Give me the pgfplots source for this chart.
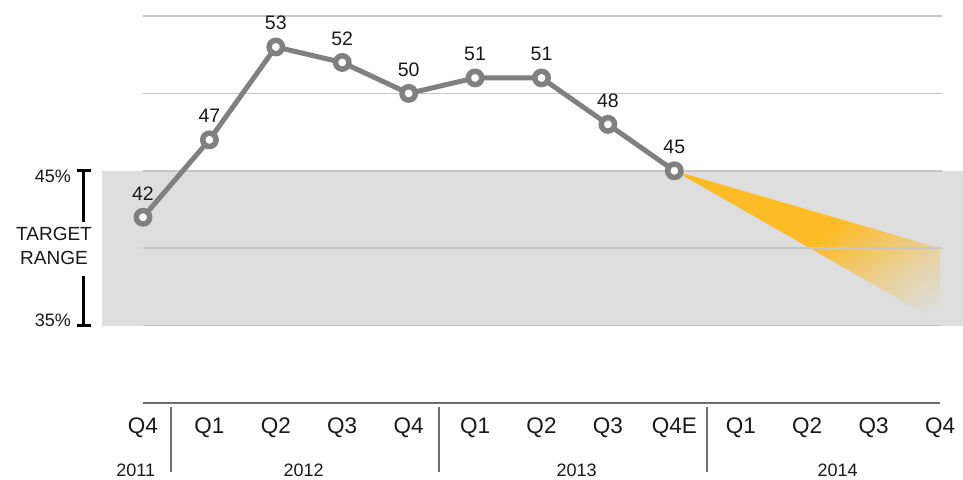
\documentclass[border=0pt]{standalone}
\usepackage{pgfplots}
\pgfplotsset{compat=1.18}
\usepackage{fontspec}
\setmainfont{Liberation Sans}
\usetikzlibrary{fadings}
\definecolor{bandgray}{RGB}{222,222,222}
\definecolor{gridgray}{RGB}{198,198,198}
\definecolor{linegray}{RGB}{128,128,128}
\definecolor{wedgeorange}{RGB}{253,187,38}
\definecolor{axgray}{RGB}{110,110,110}
\definecolor{txt}{RGB}{25,25,25}
\pgfdeclarehorizontalshading{wedgeshade}{100bp}{color(0bp)=(transparent!0); color(50bp)=(transparent!0); color(72bp)=(transparent!75); color(82bp)=(transparent!100); color(100bp)=(transparent!100)}
\pgfdeclarefading{wedgefade}{\pgfuseshading{wedgeshade}}

\begin{document}
\begin{tikzpicture}
\useasboundingbox (-143pt,-76pt) rectangle (820pt,403pt);
\begin{axis}[
  at={(0,0)}, anchor=south west,
  scale only axis, width=797pt, height=387pt,
  xmin=0, xmax=12, ymin=30, ymax=55,
  clip=false,
  axis x line*=bottom, axis y line=none,
  x axis line style={axgray, line width=1.8pt, -},
  xtick={0,1,2,3,4,5,6,7,8,9,10,11,12},
  xticklabels={Q4,Q1,Q2,Q3,Q4,Q1,Q2,Q3,Q4E,Q1,Q2,Q3,Q4},
  ytick=\empty,
  major tick length=0pt,
  xticklabel style={font=\fontsize{22.5}{22.5}\selectfont, anchor=base, yshift=-30pt, text=txt},
  /pgf/number format/assume math mode=true,
]
% target band
\addplot[draw=none, fill=bandgray] coordinates {(-0.62,35) (12.35,35) (12.35,45) (-0.62,45)} -- cycle;
% forecast wedge
\addplot[draw=none, fill=wedgeorange, path fading=wedgefade, fading angle=-38] coordinates {(8,45) (12,40) (12,35.2)} -- cycle;
% grid lines
\addplot[gridgray, line width=1.5pt] coordinates {(0,35) (12.03,35)};
\addplot[gridgray, line width=1.5pt] coordinates {(0,40) (12.03,40)};
\addplot[gridgray, line width=1.5pt] coordinates {(0,45) (12.03,45)};
\addplot[gridgray, line width=1.5pt] coordinates {(0,50) (12.03,50)};
\addplot[gridgray, line width=1.5pt] coordinates {(0,55) (12.03,55)};
% data
\addplot[linegray, line width=5pt, line join=round,
  mark=*, mark size=6.7pt, mark options={fill=white, draw=linegray, line width=5.5pt},
  nodes near coords,
  every node near coord/.append style={font=\fontsize{19.5}{19.5}\selectfont, anchor=base, yshift=17pt, text=txt}]
  coordinates {(0,42) (1,47) (2,53) (3,52) (4,50) (5,51) (6,51) (7,48) (8,45)};
% year separators
\draw[axgray, line width=1.8pt] (axis cs:0.42,29.74) -- (axis cs:0.42,25.54);
\draw[axgray, line width=1.8pt] (axis cs:4.46,29.74) -- (axis cs:4.46,25.54);
\draw[axgray, line width=1.8pt] (axis cs:8.49,29.74) -- (axis cs:8.49,25.54);
% year labels
\node[anchor=base, inner sep=0, font=\fontsize{18}{18}\selectfont, text=txt] at (axis cs:-0.11,25.22) {2011};
\node[anchor=base, inner sep=0, font=\fontsize{18}{18}\selectfont, text=txt] at (axis cs:2.42,25.22) {2012};
\node[anchor=base, inner sep=0, font=\fontsize{18}{18}\selectfont, text=txt] at (axis cs:6.53,25.22) {2013};
\node[anchor=base, inner sep=0, font=\fontsize{18}{18}\selectfont, text=txt] at (axis cs:10.46,25.22) {2014};
% target range bracket
\draw[black, line width=2.8pt] (axis cs:-0.998,45) -- (axis cs:-0.787,45);
\draw[black, line width=2.8pt] (axis cs:-0.899,45) -- (axis cs:-0.899,41.7);
\draw[black, line width=2.8pt] (axis cs:-0.899,38.2) -- (axis cs:-0.899,35);
\draw[black, line width=2.8pt] (axis cs:-0.998,35) -- (axis cs:-0.787,35);
\node[anchor=base east, inner sep=0, font=\fontsize{18}{18}\selectfont, text=txt] at (axis cs:-1.084,44.23) {45\%};
\node[anchor=base east, inner sep=0, font=\fontsize{18}{18}\selectfont, text=txt] at (axis cs:-1.084,34.93) {35\%};
\node[align=center, inner sep=0, font=\fontsize{19}{24}\selectfont, text=txt] at (axis cs:-1.34,40.14) {TARGET\\RANGE};
\end{axis}
\end{tikzpicture}
\end{document}
